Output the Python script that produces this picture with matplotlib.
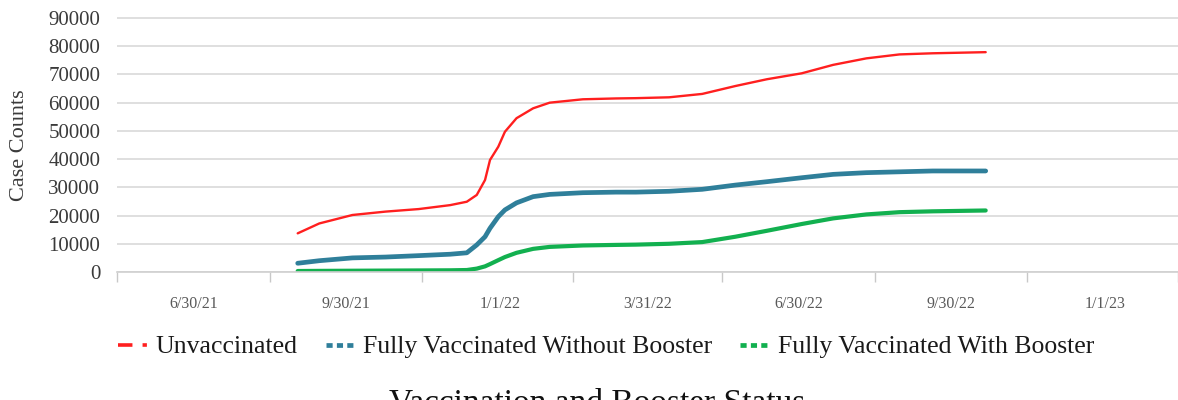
import numpy as np
import pandas as pd
import matplotlib
matplotlib.use("Agg")
import matplotlib.pyplot as plt
import matplotlib.dates as mdates
from matplotlib.lines import Line2D

# cumulative case counts by vaccination status
dates = pd.to_datetime([
    "2021-09-01", "2021-09-14", "2021-10-04", "2021-10-24", "2021-11-13",
    "2021-12-02", "2021-12-12", "2021-12-18", "2021-12-23", "2021-12-26",
    "2021-12-31", "2022-01-04", "2022-01-11", "2022-01-21", "2022-01-31",
    "2022-02-20", "2022-03-12", "2022-03-24", "2022-04-13", "2022-05-03",
    "2022-05-23", "2022-06-11", "2022-07-02", "2022-07-21", "2022-08-10",
    "2022-08-30", "2022-09-19", "2022-10-21",
])
unvaccinated = [13700, 17200, 20200, 21400, 22300, 23700, 24900, 27300, 32600,
                39700, 44400, 49700, 54500, 58000, 60000, 61200, 61500, 61600,
                61900, 63100, 65900, 68300, 70400, 73400, 75700, 77100, 77500,
                77900]
no_booster = [3100, 4000, 5000, 5300, 5800, 6300, 6800, 9600, 12500, 15500,
              19600, 22000, 24500, 26700, 27500, 28100, 28300, 28300, 28600,
              29300, 30800, 32000, 33400, 34600, 35200, 35500, 35800, 35800]
with_booster = [350, 400, 450, 500, 550, 600, 700, 1200, 2000, 2800, 4200,
                5300, 6800, 8200, 8900, 9400, 9600, 9700, 10000, 10600, 12500,
                14600, 17000, 19000, 20400, 21200, 21500, 21800]

label_dates = pd.to_datetime(["2021-06-30", "2021-09-30", "2022-01-01", "2022-03-31",
                              "2022-06-30", "2022-09-30", "2023-01-01"])
label_text = ["6/30/21", "9/30/21", "1/1/22", "3/31/22", "6/30/22", "9/30/22", "1/1/23"]
bound_dates = pd.to_datetime(["2021-05-15", "2021-08-15", "2021-11-15", "2022-02-14",
                              "2022-05-15", "2022-08-15", "2022-11-15", "2023-02-14"])

series_names = ["Unvaccinated", "Fully Vaccinated Without Booster",
                "Fully Vaccinated With Booster"]
colors = ["#FF1F1F", "#2F7F9A", "#12B04F"]

plt.rcParams["font.family"] = ["Liberation Serif", "DejaVu Serif"]

fig = plt.figure(figsize=(11.78, 4.0), dpi=100)
ax = fig.add_axes([117 / 1178, 128 / 400, 1 - 117 / 1178, (272 - 16.6) / 400])

ax.plot(dates, unvaccinated, color=colors[0], lw=1.7, solid_capstyle="round",
        solid_joinstyle="round")
ax.plot(dates, no_booster, color=colors[1], lw=3.4, solid_capstyle="round",
        solid_joinstyle="round")
ax.plot(dates, with_booster, color=colors[2], lw=3.0, solid_capstyle="round",
        solid_joinstyle="round")

ax.set_ylim(0, 90500)
ax.set_yticks(np.arange(0, 90001, 10000))
ax.set_xlim(pd.Timestamp("2021-05-15"), pd.Timestamp("2023-02-13"))

# tick marks on the period boundaries, labels in the middle of each period
ax.set_xticks(mdates.date2num(bound_dates))
ax.set_xticklabels([])
ax.set_xticks(mdates.date2num(label_dates), minor=True)
ax.set_xticklabels(label_text, minor=True)
ax.tick_params(axis="x", which="major", length=7, width=1, color="#c8c8c8")
ax.tick_params(axis="x", which="minor", length=0, pad=17, labelsize=11.5,
               labelcolor="#595959")
ax.tick_params(axis="y", length=0, pad=12, labelsize=15, labelcolor="#3a3a3a")

ax.grid(axis="y", color="#d9d9d9", lw=1.2)
ax.set_axisbelow(True)
for side in ["top", "right", "left"]:
    ax.spines[side].set_visible(False)
ax.spines["bottom"].set_color("#d0d0d0")
ax.spines["bottom"].set_linewidth(1.2)

fig.text(20 / 1178, 1 - 145 / 400, "Case Counts", rotation=90, ha="center",
         va="center", fontsize=16, color="#3a3a3a")

handles = [
    Line2D([], [], color=colors[0], lw=2.6, linestyle=(0, (4, 2.8, 1.2, 3))),
    Line2D([], [], color=colors[1], lw=3.4, linestyle=(0, (1.3, 0.9))),
    Line2D([], [], color=colors[2], lw=3.4, linestyle=(0, (1.3, 0.9))),
]
fig.legend(handles, series_names, loc="center", bbox_to_anchor=(606 / 1178, 53 / 400),
           ncol=3, frameon=False, fontsize=18.5, handlelength=1.15,
           handletextpad=0.3, columnspacing=1.1, labelcolor="#1a1a1a")

# axis title sits partly below the bottom edge of the image
fig.text(597 / 1178, -11 / 400, "Vaccination and Booster Status", ha="center",
         va="baseline", fontsize=24, color="#111111")

fig.savefig("out.png", dpi=100)
